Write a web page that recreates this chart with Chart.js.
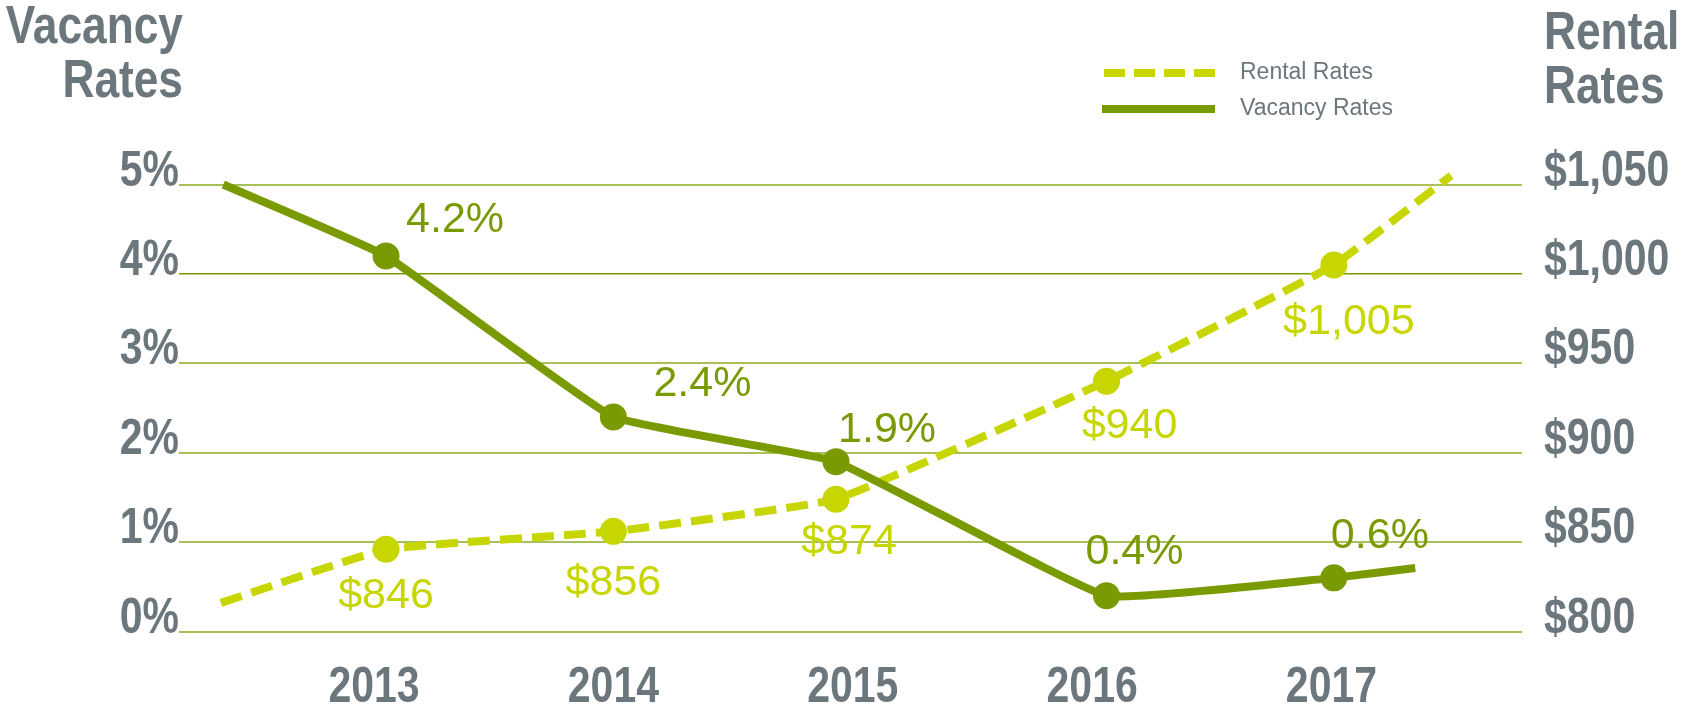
<!DOCTYPE html>
<html>
<head>
<meta charset="utf-8">
<script src="https://cdn.jsdelivr.net/npm/chart.js@4.4.1/dist/chart.umd.min.js"></script>
<style>
  html, body { margin: 0; padding: 0; background: #ffffff; }
  #wrap { width: 1682px; height: 709px; position: relative; }
</style>
</head>
<body>
<div id="wrap"><canvas id="chart" width="1682" height="709"></canvas></div>
<script>
const years = [2013, 2014, 2015, 2016, 2017];
const vacancyRates = [4.2, 2.4, 1.9, 0.4, 0.6];
const rentalRates = [846, 856, 874, 940, 1005];
// the markers sit a little off the year ticks in the original
const markYears = [2013.05, 2014.0, 2014.93, 2016.06, 2017.01];
// both lines run on past the first and last marker
const vacancyStart = [2012.37, 5.0];
const vacancyEnd = [2017.35, 0.71];
const rentalStart = [2012.36, 816];
const rentalEnd = [2017.5, 1055];
const vacancyTicks = [0, 1, 2, 3, 4, 5];
const rentalTicks = [800, 850, 900, 950, 1000, 1050];

const GREEN = '#7a9a01';
const LIME = '#c8d600';
const GREY = '#6b767d';
const BOLD = "'Liberation Sans', Arial, sans-serif";
const PLAIN = "'Liberation Sans', Arial, sans-serif";
const SQUEEZE = 0.82;  // no narrow face installed, so squeeze the regular one

// label placement relative to each marker (dx, dy to text baseline)
const vacancyLabelPos = [[69, -24], [89, -21], [51, -20], [28, -32], [46, -30]];
const rentalLabelPos = [[0, 59], [0, 64], [13, 55], [23, 57], [15, 69]];

const buildLine = (start, values, end) => [
    { x: start[0], y: start[1] },
    ...values.map((v, i) => ({ x: markYears[i], y: v })),
    { x: end[0], y: end[1] }
];

const markerRadius = (ctx) => {
    const n = ctx.dataset.data.length;
    return (ctx.dataIndex === 0 || ctx.dataIndex === n - 1) ? 0 : 13.5;
};

const narrowText = (ctx, text, x, y, align) => {
    ctx.save();
    ctx.translate(x, y);
    ctx.scale(SQUEEZE, 1);
    ctx.textAlign = align;
    ctx.fillText(text, 0, 0);
    ctx.restore();
};

const decorations = {
    id: 'decorations',
    afterDatasetsDraw(chart) {
        const ctx = chart.ctx;
        const { x, yVac, yRent } = chart.scales;
        ctx.save();
        ctx.textBaseline = 'alphabetic';
        ctx.fillStyle = GREY;

        // axis titles
        ctx.font = `bold 54px ${BOLD}`;
        narrowText(ctx, 'Vacancy', 183, 43, 'right');
        narrowText(ctx, 'Rates', 183, 97, 'right');
        narrowText(ctx, 'Rental', 1544, 49, 'left');
        narrowText(ctx, 'Rates', 1544, 103, 'left');

        // tick labels, placed by the chart's own scales
        ctx.font = `bold 50px ${BOLD}`;
        yVac.ticks.forEach(t => {
            narrowText(ctx, t.value + '%', yVac.right, yVac.getPixelForValue(t.value) + 1, 'right');
        });
        yRent.ticks.forEach(t => {
            narrowText(ctx, '$' + t.value.toLocaleString('en-US'), yRent.left + 22,
                yRent.getPixelForValue(t.value) + 1, 'left');
        });
        x.ticks.forEach(t => {
            narrowText(ctx, String(t.value), x.getPixelForValue(t.value), 702, 'center');
        });

        // legend
        ctx.lineWidth = 8;
        ctx.lineCap = 'butt';
        ctx.strokeStyle = LIME;
        ctx.setLineDash([21, 9]);
        ctx.beginPath();
        ctx.moveTo(1104, 73);
        ctx.lineTo(1215, 73);
        ctx.stroke();
        ctx.setLineDash([]);
        ctx.strokeStyle = GREEN;
        ctx.beginPath();
        ctx.moveTo(1102, 109);
        ctx.lineTo(1215, 109);
        ctx.stroke();
        ctx.font = `23px ${PLAIN}`;
        ctx.textBaseline = 'middle';
        ctx.textAlign = 'left';
        ctx.fillText('Rental Rates', 1240, 73);
        ctx.fillText('Vacancy Rates', 1240, 109);

        // value labels
        ctx.font = `43px ${PLAIN}`;
        ctx.textAlign = 'center';
        ctx.textBaseline = 'alphabetic';
        const vacMeta = chart.getDatasetMeta(0).data;
        const rentMeta = chart.getDatasetMeta(1).data;
        ctx.fillStyle = GREEN;
        vacancyRates.forEach((v, i) => {
            const p = vacMeta[i + 1];
            ctx.fillText(v.toFixed(1) + '%', p.x + vacancyLabelPos[i][0], p.y + vacancyLabelPos[i][1]);
        });
        ctx.fillStyle = LIME;
        rentalRates.forEach((v, i) => {
            const p = rentMeta[i + 1];
            ctx.fillText('$' + v.toLocaleString('en-US'), p.x + rentalLabelPos[i][0], p.y + rentalLabelPos[i][1]);
        });
        ctx.restore();
    }
};

const chart = new Chart(document.getElementById('chart'), {
    type: 'line',
    data: {
        datasets: [{
            label: 'Vacancy Rates',
            data: buildLine(vacancyStart, vacancyRates, vacancyEnd),
            yAxisID: 'yVac',
            borderColor: GREEN,
            backgroundColor: GREEN,
            borderWidth: 8,
            tension: 0.1,
            pointRadius: markerRadius,
            pointHoverRadius: markerRadius,
            pointBorderWidth: 0,
            pointBackgroundColor: GREEN,
            clip: false
        }, {
            label: 'Rental Rates',
            data: buildLine(rentalStart, rentalRates, rentalEnd),
            yAxisID: 'yRent',
            borderColor: LIME,
            backgroundColor: LIME,
            borderWidth: 8,
            borderDash: [22, 10],
            tension: 0.1,
            pointRadius: markerRadius,
            pointHoverRadius: markerRadius,
            pointBorderWidth: 0,
            pointBackgroundColor: LIME,
            clip: false
        }]
    },
    options: {
        responsive: false,
        animation: false,
        events: [],
        layout: { padding: { top: 184.5, left: 0, right: 0, bottom: 0 } },
        plugins: {
            legend: { display: false },
            tooltip: { enabled: false }
        },
        scales: {
            x: {
                type: 'linear',
                min: 2012.185,
                max: 2017.796,
                afterBuildTicks: (scale) => { scale.ticks = years.map(y => ({ value: y })); },
                afterFit: (scale) => { scale.height = 77.5; },
                grid: { display: false, drawTicks: false },
                border: { display: false },
                ticks: { display: false }
            },
            yVac: {
                type: 'linear',
                position: 'left',
                min: 0,
                max: 5,
                afterBuildTicks: (scale) => { scale.ticks = vacancyTicks.map(v => ({ value: v })); },
                afterFit: (scale) => { scale.width = 179; },
                grid: {
                    drawTicks: false,
                    color: (c) => c.tick && c.tick.value === 4 ? GREEN : '#a9c05a',
                    lineWidth: (c) => c.tick && c.tick.value === 4 ? 1.5 : 2
                },
                border: { display: false },
                ticks: { display: false }
            },
            yRent: {
                type: 'linear',
                position: 'right',
                min: 800,
                max: 1050,
                afterBuildTicks: (scale) => { scale.ticks = rentalTicks.map(v => ({ value: v })); },
                afterFit: (scale) => { scale.width = 160; },
                grid: { display: false, drawTicks: false },
                border: { display: false },
                ticks: { display: false }
            }
        }
    },
    plugins: [decorations]
});
</script>
</body>
</html>
